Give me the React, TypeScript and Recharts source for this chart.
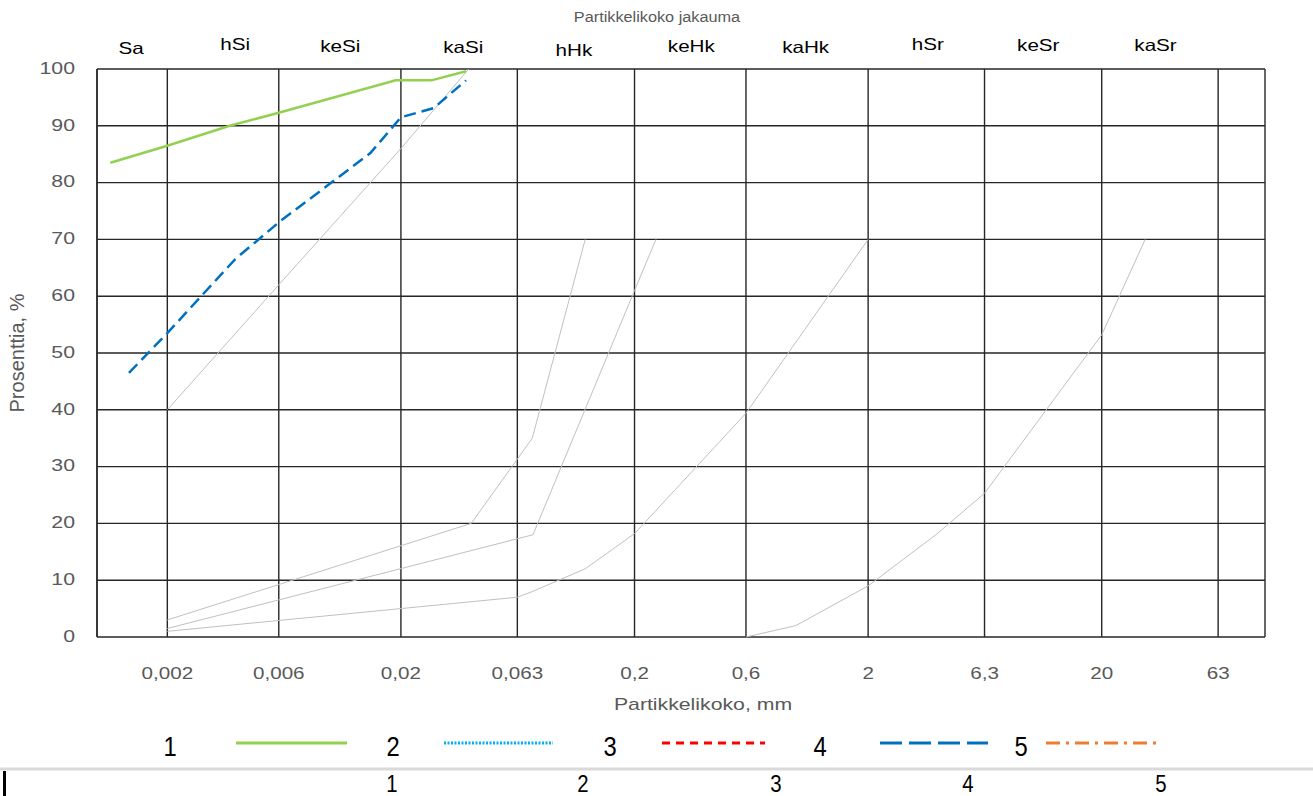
import React from "react";
import { LineChart, Line, XAxis, YAxis, CartesianGrid, Label } from "recharts";

// particle size (mm) ticks on the log axis and percent ticks
const sizeTicks = [0.002, 0.006, 0.02, 0.063, 0.2, 0.6, 2, 6.3, 20, 63];
const percentTicks = [0, 10, 20, 30, 40, 50, 60, 70, 80, 90, 100];

// soil fraction names along the top, placed at a representative size
const fractionNames = ["Sa", "hSi", "keSi", "kaSi", "hHk", "keHk", "kaHk", "hSr", "keSr", "kaSr"];
const fractionSizes = [0.0014, 0.0039, 0.011, 0.037, 0.11, 0.35, 1.08, 3.6, 10.7, 34];

// sample 1 (green)
const sample1Sizes = [0.00114, 0.002, 0.0037, 0.006, 0.019, 0.027, 0.038];
const sample1Passing = [83.5, 86.5, 90, 92.3, 98, 98, 99.6];

// sample 4 (blue dashed)
const sample4Sizes = [0.00137, 0.002, 0.0039, 0.006, 0.0148, 0.02, 0.0276, 0.038];
const sample4Passing = [46.5, 53.5, 66.5, 73, 85.2, 91.5, 93.1, 98];

// grey classification boundary curves
const limitASizes = [0.002, 0.006, 0.02, 0.039];
const limitAPassing = [40, 62, 86, 100];
const limitBSizes = [0.002, 0.04, 0.073, 0.123];
const limitBPassing = [3, 20, 35, 70];
const limitCSizes = [0.002, 0.0735, 0.2, 0.247];
const limitCPassing = [1.5, 18, 61, 70];
const limitDSizes = [0.002, 0.063, 0.073, 0.123, 0.2, 0.6, 2];
const limitDPassing = [1, 7, 8, 12, 18.2, 39.4, 70];
const limitESizes = [0.6, 0.98, 2, 3.9, 6.3, 20, 30.7];
const limitEPassing = [0, 2, 9, 18, 25.3, 53.2, 70];

const seriesNames = ["1", "2", "3", "4", "5"];
const tableNumbers = ["1", "2", "3", "4", "5"];

const toPoints = (sizes: number[], passing: number[]) =>
  sizes.map((size, i) => ({ size, passing: passing[i] }));

const limits = [
  toPoints(limitASizes, limitAPassing),
  toPoints(limitBSizes, limitBPassing),
  toPoints(limitCSizes, limitCPassing),
  toPoints(limitDSizes, limitDPassing),
  toPoints(limitESizes, limitEPassing),
];

const GRID = "#262626";
const TEXT = "#595959";
const FONT = "'Liberation Sans', Arial, sans-serif";
const SX = 1.25; // text in the source is drawn wide

// vertical centre of each fraction name (px)
const fractionLabelY = [48, 44, 46, 47, 50, 46, 47, 44, 45, 45];

const legendStyle = [
  { labelX: 170, x1: 236, x2: 347, color: "#92d050", dash: undefined },
  { labelX: 393, x1: 444, x2: 553, color: "#00b0f0", dash: "2 1.5" },
  { labelX: 610, x1: 662, x2: 765, color: "#ff0000", dash: "8 6" },
  { labelX: 820, x1: 880, x2: 988, color: "#0070c0", dash: "22 7" },
  { labelX: 1021, x1: 1046, x2: 1160, color: "#ed7d31", dash: "14 6 3 6" },
];
const tableX = [392, 583, 776, 968, 1161];

const fmt = (v: number) => String(v).replace(".", ",");

const WideText = ({ x, y, sx = SX, anchor = "middle", baseline = "central", size, fill, children }: any) => (
  <text transform={`translate(${x} ${y}) scale(${sx} 1)`} textAnchor={anchor} dominantBaseline={baseline}
    fontSize={size} fontFamily={FONT} fill={fill}>
    {children}
  </text>
);

const TopTick = (props: any) => {
  const { x, index } = props;
  return <WideText x={x} y={fractionLabelY[index]} size={16.5} fill="#000">{fractionNames[index]}</WideText>;
};

const BottomTick = (props: any) => {
  const { x, payload } = props;
  return <WideText x={x} y={673} size={16.5} fill={TEXT}>{fmt(payload.value)}</WideText>;
};

const LeftTick = (props: any) => {
  const { x, y, payload } = props;
  return <WideText x={x} y={y - 1} anchor="end" size={17} fill={TEXT}>{payload.value}</WideText>;
};

const YTitle = (props: any) => {
  const { viewBox } = props;
  const cx = 17;
  const cy = viewBox.y + viewBox.height / 2;
  return (
    <text x={cx} y={cy} transform={`rotate(-90 ${cx} ${cy})`} textAnchor="middle"
      dominantBaseline="central" fill={TEXT} fontSize={20} fontFamily={FONT}>
      Prosenttia, %
    </text>
  );
};

const XTitle = (props: any) => {
  const { viewBox } = props;
  const cx = viewBox.x + viewBox.width / 2 + 22;
  return <WideText x={cx} y={710} baseline="auto" size={17} fill={TEXT}>Partikkelikoko, mm</WideText>;
};

export default function App() {
  return (
    <div style={{ position: "fixed", left: 0, top: 0, width: 1313, height: 796, overflow: "hidden", background: "#fff", fontFamily: FONT }}>
      <div style={{ position: "absolute", left: 0, top: 0 }}>
        <LineChart width={1313} height={796} margin={{ top: 29, right: 48, bottom: 119, left: 0 }}>
          <CartesianGrid stroke={GRID} strokeWidth={1.4} />
          <XAxis
            dataKey="size"
            type="number"
            scale="log"
            domain={[0.001, 100]}
            allowDataOverflow
            ticks={sizeTicks}
            height={40}
            axisLine={false}
            tickLine={false}
            tick={<BottomTick />}
          >
            <Label content={XTitle} />
          </XAxis>
          <XAxis
            xAxisId="top"
            orientation="top"
            dataKey="size"
            type="number"
            scale="log"
            domain={[0.001, 100]}
            allowDataOverflow
            ticks={fractionSizes}
            height={40}
            axisLine={false}
            tickLine={false}
            tick={<TopTick />}
          />
          <YAxis
            type="number"
            domain={[0, 100]}
            ticks={percentTicks}
            width={97}
            axisLine={{ stroke: GRID, strokeWidth: 1.4 }}
            tickLine={false}
            tickMargin={16}
            tick={<LeftTick />}
          >
            <Label content={YTitle} />
          </YAxis>
          {limits.map((pts, i) => (
            <Line key={`limit${i}`} data={pts} dataKey="passing" type="linear" stroke="#c0c0c0"
              strokeWidth={1} dot={false} isAnimationActive={false} />
          ))}
          <Line data={toPoints(sample1Sizes, sample1Passing)} dataKey="passing" name={seriesNames[0]}
            type="linear" stroke="#92d050" strokeWidth={2.5} dot={false} isAnimationActive={false} />
          <Line data={toPoints(sample4Sizes, sample4Passing)} dataKey="passing" name={seriesNames[3]}
            type="linear" stroke="#0070c0" strokeWidth={2.5} strokeDasharray="12 6" dot={false}
            isAnimationActive={false} />
        </LineChart>
      </div>
      <svg width={1313} height={796} style={{ position: "absolute", left: 0, top: 0, pointerEvents: "none" }}>
        <WideText x={657} y={17} sx={1.05} size={15.5} fill={TEXT}>Partikkelikoko jakauma</WideText>
        {seriesNames.map((name, i) => {
          const s = legendStyle[i];
          return (
            <g key={name}>
              <WideText x={s.labelX} y={746} sx={0.85} size={28} fill="#000">{name}</WideText>
              <line x1={s.x1} x2={s.x2} y1={743} y2={743} stroke={s.color} strokeWidth={3}
                strokeDasharray={s.dash} />
            </g>
          );
        })}
        <line x1={0} x2={1313} y1={769} y2={769} stroke="#d9d9d9" strokeWidth={3} />
        <rect x={3} y={771} width={3} height={25} fill="#000" />
        {tableNumbers.map((n, i) => (
          <WideText key={n} x={tableX[i]} y={784} sx={0.85} size={24} fill="#000">{n}</WideText>
        ))}
      </svg>
    </div>
  );
}
